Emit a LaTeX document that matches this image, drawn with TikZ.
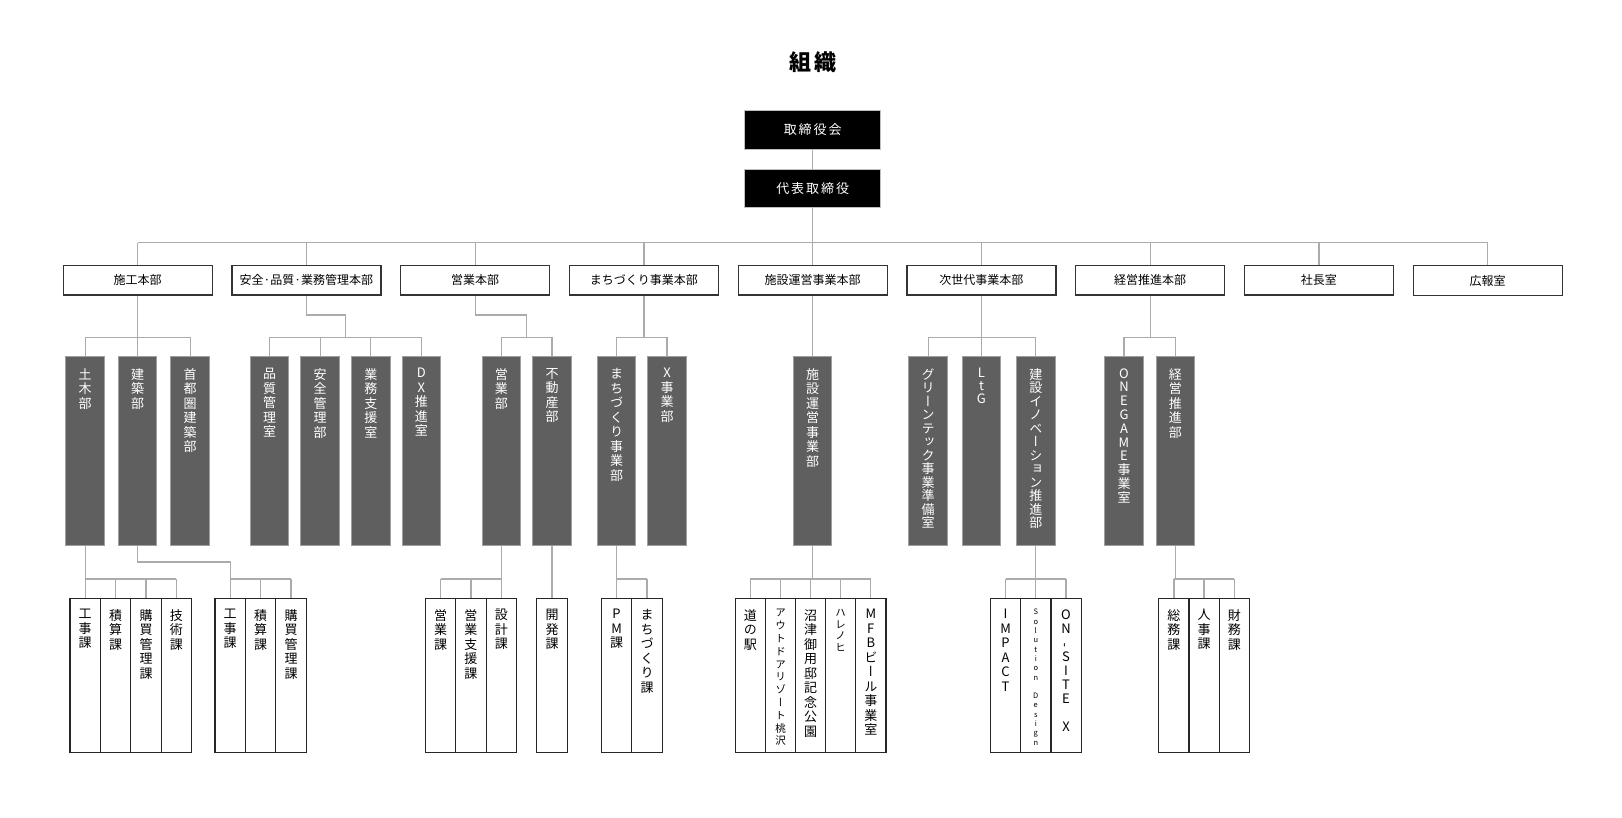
\documentclass[tikz,border=0pt]{standalone}
\usepackage{fontspec}
\setmainfont{Noto Sans CJK JP}
\newfontfamily\vjp[RawFeature=+vert]{Noto Sans CJK JP}
\newfontfamily\jpwide[LetterSpace=15]{Noto Sans CJK JP}
\usetikzlibrary{calc}
\definecolor{deptgray}{HTML}{5F5F5F}
\definecolor{linegray}{HTML}{ABABAB}
\newcommand\vhyph{\rotatebox[origin=c]{90}{-}}
\begin{document}
\begin{tikzpicture}[x=1pt,y=-1pt,
	topbox/.style={fill=black,draw=gray!50,line width=.8pt,text=white,minimum width=136pt,minimum height=38.5pt,inner sep=0pt,font=\jpwide\fontsize{13}{13}\selectfont},
	hqbox/.style={draw=black!80,line width=1.2pt,minimum width=149pt,minimum height=29.7pt,inner sep=0pt,font=\fontsize{12}{12}\selectfont},
	deptbox/.style={fill=deptgray,draw=gray!75,line width=1pt,minimum width=38.5pt,minimum height=188.6pt,inner sep=0pt},
	secbox/.style={draw=black!85,line width=1.1pt,minimum width=30.4pt,minimum height=154pt,inner sep=0pt},
	vlab/.style={anchor=north,align=center,inner sep=0pt,font=\vjp\fontsize{13}{14.5}\selectfont},
	dlab/.style={label={[vlab,yshift=-12pt,text=white]north:{#1}}},
	slab/.style={label={[vlab,yshift=-11pt]north:{#1}}},
	conn/.style={draw=linegray,line width=1.3pt}]
\useasboundingbox (0,0) rectangle (1622,817);

\node[font=\bfseries\jpwide\fontsize{22}{22}\selectfont] (title) at (813,62) {組織};
\node[topbox] (torishimari) at (812.7,130) {取締役会};
\node[topbox] (daihyo) at (812.7,188.5) {代表取締役};

\node[hqbox] (sekou) at (137.7,280.2) {施工本部};
\node[hqbox] (anzenhq) at (306.45,280.2) {安全·品質·業務管理本部};
\node[hqbox] (eigyohq) at (475.2,280.2) {営業本部};
\node[hqbox] (machihq) at (643.95,280.2) {まちづくり事業本部};
\node[hqbox] (shisetsuhq) at (812.7,280.2) {施設運営事業本部};
\node[hqbox] (jiseidai) at (981.45,280.2) {次世代事業本部};
\node[hqbox] (keieihq) at (1150.2,280.2) {経営推進本部};
\node[hqbox] (shacho) at (1318.95,280.2) {社長室};
\node[hqbox] (kouhou) at (1487.7,280.7) {広報室};

\node[deptbox,dlab={土\\木\\部}] (doboku) at (85.2,451) {};
\node[deptbox,dlab={建\\築\\部}] (kenchiku) at (137.7,451) {};
\node[deptbox,dlab={首\\都\\圏\\建\\築\\部}] (shutoken) at (190.2,451) {};
\node[deptbox,dlab={品\\質\\管\\理\\室}] (hinshitsu) at (269.6,451) {};
\node[deptbox,dlab={安\\全\\管\\理\\部}] (anzen) at (320.2,451) {};
\node[deptbox,dlab={業\\務\\支\\援\\室}] (gyomu) at (370.8,451) {};
\node[deptbox,dlab={D\\X\\推\\進\\室}] (dx) at (421.4,451) {};
\node[deptbox,dlab={営\\業\\部}] (eigyo) at (501.3,451) {};
\node[deptbox,dlab={不\\動\\産\\部}] (fudosan) at (552,451) {};
\node[deptbox,dlab={ま\\ち\\づ\\く\\り\\事\\業\\部}] (machi) at (616.6,451) {};
\node[deptbox,dlab={X\\事\\業\\部}] (xjigyo) at (667.1,451) {};
\node[deptbox,dlab={施\\設\\運\\営\\事\\業\\部}] (shisetsu) at (812.7,451) {};
\node[deptbox,label={[vlab,yshift=-12pt,text=white,font=\vjp\fontsize{13}{13.5}\selectfont]north:{グ\\リ\\ー\\ン\\テ\\ッ\\ク\\事\\業\\準\\備\\室}}] (green) at (928.2,451) {};
\node[deptbox,label={[vlab,yshift=-12pt,text=white,font=\vjp\fontsize{13}{12.7}\selectfont]north:{L\\t\\G}}] (ltg) at (981.45,451) {};
\node[deptbox,label={[vlab,yshift=-12pt,text=white,font=\vjp\fontsize{13}{13.5}\selectfont]north:{建\\設\\イ\\ノ\\ベ\\ー\\シ\\ョ\\ン\\推\\進\\部}}] (inno) at (1035.8,451) {};
\node[deptbox,label={[vlab,yshift=-12pt,text=white,font=\vjp\fontsize{13}{13.8}\selectfont]north:{O\\N\\E\\G\\A\\M\\E\\事\\業\\室}}] (onegame) at (1124,451) {};
\node[deptbox,dlab={経\\営\\推\\進\\部}] (keiei) at (1175.3,451) {};

\node[secbox,slab={工\\事\\課}] (koujiA) at (85.2,675.7) {};
\node[secbox,slab={積\\算\\課}] (sekisanA) at (115.6,675.7) {};
\node[secbox,slab={購\\買\\管\\理\\課}] (kobaiA) at (146,675.7) {};
\node[secbox,slab={技\\術\\課}] (gijutsu) at (176.4,675.7) {};
\node[secbox,slab={工\\事\\課}] (koujiB) at (230.2,675.7) {};
\node[secbox,slab={積\\算\\課}] (sekisanB) at (260.6,675.7) {};
\node[secbox,slab={購\\買\\管\\理\\課}] (kobaiB) at (291,675.7) {};
\node[secbox,slab={営\\業\\課}] (eigyoka) at (440.5,675.7) {};
\node[secbox,slab={営\\業\\支\\援\\課}] (shienka) at (470.9,675.7) {};
\node[secbox,slab={設\\計\\課}] (sekkei) at (501.3,675.7) {};
\node[secbox,slab={開\\発\\課}] (kaihatsu) at (552,675.7) {};
\node[secbox,slab={P\\M\\課}] (pm) at (616.6,675.7) {};
\node[secbox,slab={ま\\ち\\づ\\く\\り\\課}] (machika) at (647,675.7) {};
\node[secbox,slab={道\\の\\駅}] (michi) at (750.4,675.7) {};
\node[secbox,label={[vlab,yshift=-11pt,font=\vjp\fontsize{10.5}{12.8}\selectfont]north:{ア\\ウ\\ト\\ド\\ア\\リ\\ゾ\\ー\\ト\\桃\\沢}}] (outdoor) at (780.5,675.7) {};
\node[secbox,slab={沼\\津\\御\\用\\邸\\記\\念\\公\\園}] (numazu) at (810.6,675.7) {};
\node[secbox,label={[vlab,yshift=-11pt,font=\vjp\fontsize{10.5}{11.5}\selectfont]north:{ハ\\レ\\ノ\\ヒ}}] (hare) at (840.7,675.7) {};
\node[secbox,slab={M\\F\\B\\ビ\\ー\\ル\\事\\業\\室}] (mfb) at (870.8,675.7) {};
\node[secbox,slab={I\\M\\P\\A\\C\\T}] (impact) at (1005.6,675.7) {};
\node[secbox,label={[vlab,yshift=-11pt,font=\fontsize{7.5}{9.3}\selectfont]north:{S\\o\\l\\u\\t\\i\\o\\n\\\mbox{}\\D\\e\\s\\i\\g\\n}}] (solution) at (1035.8,675.7) {};
\node[secbox,label={[vlab,yshift=-11pt,font=\fontsize{13}{14}\selectfont]north:{O\\N\\\vhyph\\S\\I\\T\\E\\\mbox{}\\X}}] (onsite) at (1066,675.7) {};
\node[secbox,slab={総\\務\\課}] (somu) at (1173.9,675.7) {};
\node[secbox,slab={人\\事\\課}] (jinji) at (1204.1,675.7) {};
\node[secbox,slab={財\\務\\課}] (zaimu) at (1234.4,675.7) {};

\coordinate (bus) at (0,242.7);
\coordinate (kink2) at (0,315);
\coordinate (bar2) at (0,337.3);
\coordinate (kink3) at (0,562);
\coordinate (bar3) at (0,579);
\coordinate (anzenmid) at ($(hinshitsu.north)!.5!(dx.north)$);
\coordinate (eigyomid) at ($(eigyo.north)!.5!(fudosan.north)$);

\draw[conn] (torishimari.south) -- (daihyo.north);
\draw[conn] (daihyo.south) -- (daihyo.south |- bus);
\draw[conn] (sekou.north |- bus) -- (kouhou.north |- bus);
\foreach \n in {sekou,anzenhq,eigyohq,machihq,shisetsuhq,jiseidai,keieihq,shacho,kouhou}
	\draw[conn] (\n.north) -- (\n.north |- bus);

\foreach \n in {doboku,kenchiku,shutoken,hinshitsu,anzen,gyomu,dx,eigyo,fudosan,machi,xjigyo,shisetsu,green,ltg,inno,onegame,keiei}
	\draw[conn] (\n.north) -- (\n.north |- bar2);
\draw[conn] (doboku.north |- bar2) -- (shutoken.north |- bar2);
\draw[conn] (hinshitsu.north |- bar2) -- (dx.north |- bar2);
\draw[conn] (eigyo.north |- bar2) -- (fudosan.north |- bar2);
\draw[conn] (machi.north |- bar2) -- (xjigyo.north |- bar2);
\draw[conn] (green.north |- bar2) -- (inno.north |- bar2);
\draw[conn] (onegame.north |- bar2) -- (keiei.north |- bar2);
\foreach \n in {sekou,machihq,shisetsuhq,jiseidai,keieihq}
	\draw[conn] (\n.south) -- (\n.south |- bar2);
\draw[conn] (anzenhq.south) |- (anzenmid |- kink2) -- (anzenmid |- bar2);
\draw[conn] (eigyohq.south) |- (eigyomid |- kink2) -- (eigyomid |- bar2);

\foreach \n in {koujiA,sekisanA,kobaiA,gijutsu,koujiB,sekisanB,kobaiB,eigyoka,shienka,sekkei,kaihatsu,pm,machika,michi,outdoor,numazu,hare,mfb,impact,solution,onsite,somu,jinji,zaimu}
	\draw[conn] (\n.north) -- (\n.north |- bar3);
\draw[conn] (koujiA.north |- bar3) -- (gijutsu.north |- bar3);
\draw[conn] (koujiB.north |- bar3) -- (kobaiB.north |- bar3);
\draw[conn] (eigyoka.north |- bar3) -- (sekkei.north |- bar3);
\draw[conn] (pm.north |- bar3) -- (machika.north |- bar3);
\draw[conn] (michi.north |- bar3) -- (mfb.north |- bar3);
\draw[conn] (impact.north |- bar3) -- (onsite.north |- bar3);
\draw[conn] (somu.north |- bar3) -- (zaimu.north |- bar3);
\foreach \n in {doboku,eigyo,fudosan,machi,shisetsu,inno,keiei}
	\draw[conn] (\n.south) -- (\n.south |- bar3);
\draw[conn] (kenchiku.south) |- (koujiB.north |- kink3) -- (koujiB.north |- bar3);
\end{tikzpicture}
\end{document}
